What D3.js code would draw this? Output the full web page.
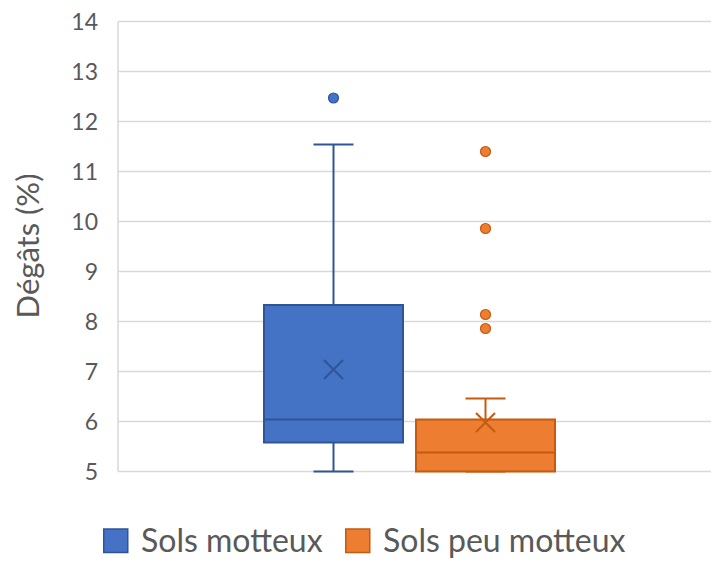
<!DOCTYPE html>
<html><head><meta charset="utf-8">
<script src="https://cdn.jsdelivr.net/npm/d3@7"></script>
<style>body{margin:0;background:#fff}svg{display:block}text{font-family:Lato,"Open Sans",sans-serif;fill:#595959}</style>
</head><body>
<script>
const series = ["Sols motteux", "Sols peu motteux"];
const fills = ["#4472C4", "#ED7D31"];
const strokes = ["#2F5597", "#C55A11"];
const whiskerLow = [5.0, 5.0];
const q1 = [5.58, 5.0];
const median = [6.04, 5.38];
const q3 = [8.33, 6.04];
const whiskerHigh = [11.54, 6.46];
const mean = [7.04, 5.98];
const outliers = [[12.47], [11.40, 9.86, 8.14, 7.86]];
const yTicks = [5, 6, 7, 8, 9, 10, 11, 12, 13, 14];
const yTitle = "Dégâts (%)";

const W = 728, H = 577;
const svg = d3.select("body").append("svg").attr("width", W).attr("height", H);
const y = d3.scaleLinear().domain([5, 14]).range([471.5, 21.5]);
const plotL = 118, plotR = 711;
const x = d3.scaleBand().domain(series).range([264, 555]).paddingInner(0.0855).paddingOuter(0);

// gridlines
svg.append("g").selectAll("line").data(yTicks).join("line")
  .attr("x1", plotL).attr("x2", plotR)
  .attr("y1", d => y(d)).attr("y2", d => y(d))
  .attr("stroke", "#D9D9D9").attr("stroke-width", 1.5);
svg.append("line").attr("x1", plotL).attr("x2", plotL).attr("y1", y(14)).attr("y2", y(5))
  .attr("stroke", "#D9D9D9").attr("stroke-width", 1.5);

// y axis labels
const yAxis = d3.axisLeft(y).tickValues(yTicks).tickSize(0).tickPadding(0);
const ga = svg.append("g").attr("transform", "translate(98,0)").call(yAxis);
ga.select(".domain").remove();
ga.selectAll("text").attr("font-size", 23).attr("fill", "#595959")
  .style("font-family", "Lato").attr("dy", "0.36em").attr("x", 0);

svg.append("text").attr("transform", "translate(39,246) rotate(-90)")
  .attr("text-anchor", "middle").attr("font-size", 31).text(yTitle);

const bw = x.bandwidth();
const g = svg.append("g");
series.forEach((s, i) => {
  const cx = x(s) + bw / 2;
  const gs = g.append("g");
  // whiskers
  gs.append("line").attr("x1", cx).attr("x2", cx).attr("y1", y(q3[i])).attr("y2", y(whiskerHigh[i]))
    .attr("stroke", strokes[i]).attr("stroke-width", 2);
  gs.append("line").attr("x1", cx).attr("x2", cx).attr("y1", y(q1[i])).attr("y2", y(whiskerLow[i]))
    .attr("stroke", strokes[i]).attr("stroke-width", 2);
  [whiskerHigh[i], whiskerLow[i]].forEach(v => {
    gs.append("line").attr("x1", cx - 20).attr("x2", cx + 20).attr("y1", y(v)).attr("y2", y(v))
      .attr("stroke", strokes[i]).attr("stroke-width", 2);
  });
  // box
  gs.append("rect").attr("x", x(s)).attr("width", bw)
    .attr("y", y(q3[i])).attr("height", y(q1[i]) - y(q3[i]))
    .attr("fill", fills[i]).attr("stroke", strokes[i]).attr("stroke-width", 2);
  gs.append("line").attr("x1", x(s)).attr("x2", x(s) + bw).attr("y1", y(median[i])).attr("y2", y(median[i]))
    .attr("stroke", strokes[i]).attr("stroke-width", 2);
  // mean X
  const my = y(mean[i]), r = 9.5;
  gs.append("path").attr("d", `M${cx - r},${my - r}L${cx + r},${my + r}M${cx - r},${my + r}L${cx + r},${my - r}`)
    .attr("stroke", strokes[i]).attr("stroke-width", 2).attr("fill", "none");
  // outliers
  gs.selectAll("circle").data(outliers[i]).join("circle")
    .attr("cx", cx).attr("cy", d => y(d)).attr("r", 5)
    .attr("fill", fills[i]).attr("stroke", strokes[i]).attr("stroke-width", 1.2);
});

// legend
const legX = [103, 345];
const lg = svg.append("g");
series.forEach((s, i) => {
  lg.append("rect").attr("x", legX[i] + 0.75).attr("y", 529).attr("width", 24).attr("height", 23.5)
    .attr("fill", fills[i]).attr("stroke", strokes[i]).attr("stroke-width", 1.5);
  lg.append("text").attr("x", legX[i] + 38).attr("y", 552).attr("font-size", 32).text(s);
});
</script>
</body></html>
